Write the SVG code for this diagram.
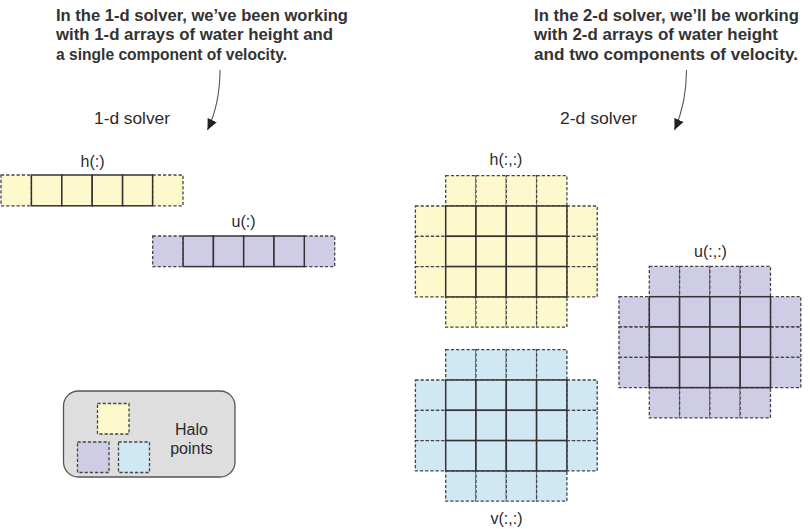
<svg xmlns="http://www.w3.org/2000/svg" width="811" height="529" viewBox="0 0 811 529">
<style>
.bg{fill:#ffffff}
.cap{font-family:"Liberation Sans",Arial,sans-serif;font-weight:700;font-size:17px;fill:#333333}
.lbl{font-family:"Liberation Sans",Arial,sans-serif;font-size:16px;fill:#2a2a2a}
.halo{stroke:#444444;stroke-width:1.3;stroke-dasharray:3.2 2}
.cell{stroke:#333333;stroke-width:1.5}
.y{fill:#fdf9cd}
.p{fill:#cfcde6}
.b{fill:#d0e7f4}
.conn{fill:none;stroke:#555555;stroke-width:1.1}
</style>
<defs>
<marker id="ah" markerUnits="userSpaceOnUse" markerWidth="12" markerHeight="12" viewBox="0 0 12 12" refX="11" refY="6" orient="auto">
<path d="M0,1 L11,6 L0,11 Z" fill="#222222"/>
</marker>
</defs>
<rect class="bg" x="0" y="0" width="811" height="529"/>

<g id="caption-1d">
<text class="cap" x="56" y="20.5" textLength="292" lengthAdjust="spacingAndGlyphs">In the 1-d solver, we’ve been working</text>
<text class="cap" x="56" y="40" textLength="277" lengthAdjust="spacingAndGlyphs">with 1-d arrays of water height and</text>
<text class="cap" x="56" y="59.5" textLength="231" lengthAdjust="spacingAndGlyphs">a single component of velocity.</text>
</g>
<g id="caption-2d">
<text class="cap" x="534" y="20.5" textLength="265" lengthAdjust="spacingAndGlyphs">In the 2-d solver, we’ll be working</text>
<text class="cap" x="534" y="40" textLength="244" lengthAdjust="spacingAndGlyphs">with 2-d arrays of water height</text>
<text class="cap" x="534" y="59.5" textLength="264" lengthAdjust="spacingAndGlyphs">and two components of velocity.</text>
</g>

<g id="title-1d"><text class="lbl" x="94" y="123.5" textLength="76" lengthAdjust="spacingAndGlyphs">1-d solver</text></g>
<g id="title-2d"><text class="lbl" x="560" y="123.5" textLength="77" lengthAdjust="spacingAndGlyphs">2-d solver</text></g>

<g id="connectors">
<path class="conn" d="M220,70 C220,96 215.5,113 207.5,130" marker-end="url(#ah)"/>
<path class="conn" d="M686.5,70 C686.5,96 682,113 674.5,130" marker-end="url(#ah)"/>
</g>

<g id="h1d">
<text class="lbl" x="92.5" y="166.5" text-anchor="middle">h(:)</text>
<rect class="halo y" x="1" y="175" width="30.4" height="30.8"/>
<rect class="halo y" x="152.6" y="175" width="30.4" height="30.8"/>
<rect class="cell y" x="31.4" y="175" width="30.4" height="30.8"/>
<rect class="cell y" x="61.8" y="175" width="30.4" height="30.8"/>
<rect class="cell y" x="92.2" y="175" width="30.4" height="30.8"/>
<rect class="cell y" x="122.6" y="175" width="30" height="30.8"/>
</g>

<g id="u1d">
<text class="lbl" x="243.5" y="227" text-anchor="middle">u(:)</text>
<rect class="halo p" x="152.7" y="236" width="30.4" height="30.6"/>
<rect class="halo p" x="304.3" y="236" width="30.4" height="30.6"/>
<rect class="cell p" x="183.1" y="236" width="30.3" height="30.6"/>
<rect class="cell p" x="213.4" y="236" width="30.3" height="30.6"/>
<rect class="cell p" x="243.7" y="236" width="30.3" height="30.6"/>
<rect class="cell p" x="274" y="236" width="30.3" height="30.6"/>
</g>

<g id="h2d">
<text class="lbl" x="506" y="165" text-anchor="middle">h(:,:)</text>
<g transform="translate(445.7,206)">
<rect class="halo y" x="0" y="-30.3" width="30.3" height="30.3"/>
<rect class="halo y" x="30.3" y="-30.3" width="30.3" height="30.3"/>
<rect class="halo y" x="60.6" y="-30.3" width="30.3" height="30.3"/>
<rect class="halo y" x="90.9" y="-30.3" width="30.3" height="30.3"/>
<rect class="halo y" x="0" y="90.9" width="30.3" height="30.3"/>
<rect class="halo y" x="30.3" y="90.9" width="30.3" height="30.3"/>
<rect class="halo y" x="60.6" y="90.9" width="30.3" height="30.3"/>
<rect class="halo y" x="90.9" y="90.9" width="30.3" height="30.3"/>
<rect class="halo y" x="-30.3" y="0" width="30.3" height="30.3"/>
<rect class="halo y" x="-30.3" y="30.3" width="30.3" height="30.3"/>
<rect class="halo y" x="-30.3" y="60.6" width="30.3" height="30.3"/>
<rect class="halo y" x="121.2" y="0" width="30.3" height="30.3"/>
<rect class="halo y" x="121.2" y="30.3" width="30.3" height="30.3"/>
<rect class="halo y" x="121.2" y="60.6" width="30.3" height="30.3"/>
<rect class="cell y" x="0" y="0" width="30.3" height="30.3"/>
<rect class="cell y" x="30.3" y="0" width="30.3" height="30.3"/>
<rect class="cell y" x="60.6" y="0" width="30.3" height="30.3"/>
<rect class="cell y" x="90.9" y="0" width="30.3" height="30.3"/>
<rect class="cell y" x="0" y="30.3" width="30.3" height="30.3"/>
<rect class="cell y" x="30.3" y="30.3" width="30.3" height="30.3"/>
<rect class="cell y" x="60.6" y="30.3" width="30.3" height="30.3"/>
<rect class="cell y" x="90.9" y="30.3" width="30.3" height="30.3"/>
<rect class="cell y" x="0" y="60.6" width="30.3" height="30.3"/>
<rect class="cell y" x="30.3" y="60.6" width="30.3" height="30.3"/>
<rect class="cell y" x="60.6" y="60.6" width="30.3" height="30.3"/>
<rect class="cell y" x="90.9" y="60.6" width="30.3" height="30.3"/>
</g>
</g>

<g id="u2d">
<text class="lbl" x="710.5" y="256.5" text-anchor="middle">u(:,:)</text>
<g transform="translate(649.3,296.7)">
<rect class="halo p" x="0" y="-30.3" width="30.3" height="30.3"/>
<rect class="halo p" x="30.3" y="-30.3" width="30.3" height="30.3"/>
<rect class="halo p" x="60.6" y="-30.3" width="30.3" height="30.3"/>
<rect class="halo p" x="90.9" y="-30.3" width="30.3" height="30.3"/>
<rect class="halo p" x="0" y="90.9" width="30.3" height="30.3"/>
<rect class="halo p" x="30.3" y="90.9" width="30.3" height="30.3"/>
<rect class="halo p" x="60.6" y="90.9" width="30.3" height="30.3"/>
<rect class="halo p" x="90.9" y="90.9" width="30.3" height="30.3"/>
<rect class="halo p" x="-30.3" y="0" width="30.3" height="30.3"/>
<rect class="halo p" x="-30.3" y="30.3" width="30.3" height="30.3"/>
<rect class="halo p" x="-30.3" y="60.6" width="30.3" height="30.3"/>
<rect class="halo p" x="121.2" y="0" width="30.3" height="30.3"/>
<rect class="halo p" x="121.2" y="30.3" width="30.3" height="30.3"/>
<rect class="halo p" x="121.2" y="60.6" width="30.3" height="30.3"/>
<rect class="cell p" x="0" y="0" width="30.3" height="30.3"/>
<rect class="cell p" x="30.3" y="0" width="30.3" height="30.3"/>
<rect class="cell p" x="60.6" y="0" width="30.3" height="30.3"/>
<rect class="cell p" x="90.9" y="0" width="30.3" height="30.3"/>
<rect class="cell p" x="0" y="30.3" width="30.3" height="30.3"/>
<rect class="cell p" x="30.3" y="30.3" width="30.3" height="30.3"/>
<rect class="cell p" x="60.6" y="30.3" width="30.3" height="30.3"/>
<rect class="cell p" x="90.9" y="30.3" width="30.3" height="30.3"/>
<rect class="cell p" x="0" y="60.6" width="30.3" height="30.3"/>
<rect class="cell p" x="30.3" y="60.6" width="30.3" height="30.3"/>
<rect class="cell p" x="60.6" y="60.6" width="30.3" height="30.3"/>
<rect class="cell p" x="90.9" y="60.6" width="30.3" height="30.3"/>
</g>
</g>

<g id="v2d">
<text class="lbl" x="506.5" y="523.5" text-anchor="middle">v(:,:)</text>
<g transform="translate(445.7,380)">
<rect class="halo b" x="0" y="-30.3" width="30.3" height="30.3"/>
<rect class="halo b" x="30.3" y="-30.3" width="30.3" height="30.3"/>
<rect class="halo b" x="60.6" y="-30.3" width="30.3" height="30.3"/>
<rect class="halo b" x="90.9" y="-30.3" width="30.3" height="30.3"/>
<rect class="halo b" x="0" y="90.9" width="30.3" height="30.3"/>
<rect class="halo b" x="30.3" y="90.9" width="30.3" height="30.3"/>
<rect class="halo b" x="60.6" y="90.9" width="30.3" height="30.3"/>
<rect class="halo b" x="90.9" y="90.9" width="30.3" height="30.3"/>
<rect class="halo b" x="-30.3" y="0" width="30.3" height="30.3"/>
<rect class="halo b" x="-30.3" y="30.3" width="30.3" height="30.3"/>
<rect class="halo b" x="-30.3" y="60.6" width="30.3" height="30.3"/>
<rect class="halo b" x="121.2" y="0" width="30.3" height="30.3"/>
<rect class="halo b" x="121.2" y="30.3" width="30.3" height="30.3"/>
<rect class="halo b" x="121.2" y="60.6" width="30.3" height="30.3"/>
<rect class="cell b" x="0" y="0" width="30.3" height="30.3"/>
<rect class="cell b" x="30.3" y="0" width="30.3" height="30.3"/>
<rect class="cell b" x="60.6" y="0" width="30.3" height="30.3"/>
<rect class="cell b" x="90.9" y="0" width="30.3" height="30.3"/>
<rect class="cell b" x="0" y="30.3" width="30.3" height="30.3"/>
<rect class="cell b" x="30.3" y="30.3" width="30.3" height="30.3"/>
<rect class="cell b" x="60.6" y="30.3" width="30.3" height="30.3"/>
<rect class="cell b" x="90.9" y="30.3" width="30.3" height="30.3"/>
<rect class="cell b" x="0" y="60.6" width="30.3" height="30.3"/>
<rect class="cell b" x="30.3" y="60.6" width="30.3" height="30.3"/>
<rect class="cell b" x="60.6" y="60.6" width="30.3" height="30.3"/>
<rect class="cell b" x="90.9" y="60.6" width="30.3" height="30.3"/>
</g>
</g>

<g id="legend">
<rect x="63.5" y="391" width="171.5" height="86" rx="15" ry="15" fill="#dedede" stroke="#555555" stroke-width="1.3"/>
<rect class="halo y" x="97.5" y="403.5" width="31.5" height="30.5"/>
<rect class="halo p" x="77.5" y="442" width="31.5" height="30.5"/>
<rect class="halo b" x="118.5" y="442" width="31" height="30.5"/>
<text class="lbl" x="191.5" y="435" text-anchor="middle">Halo</text>
<text class="lbl" x="191.5" y="453.5" text-anchor="middle">points</text>
</g>
</svg>
